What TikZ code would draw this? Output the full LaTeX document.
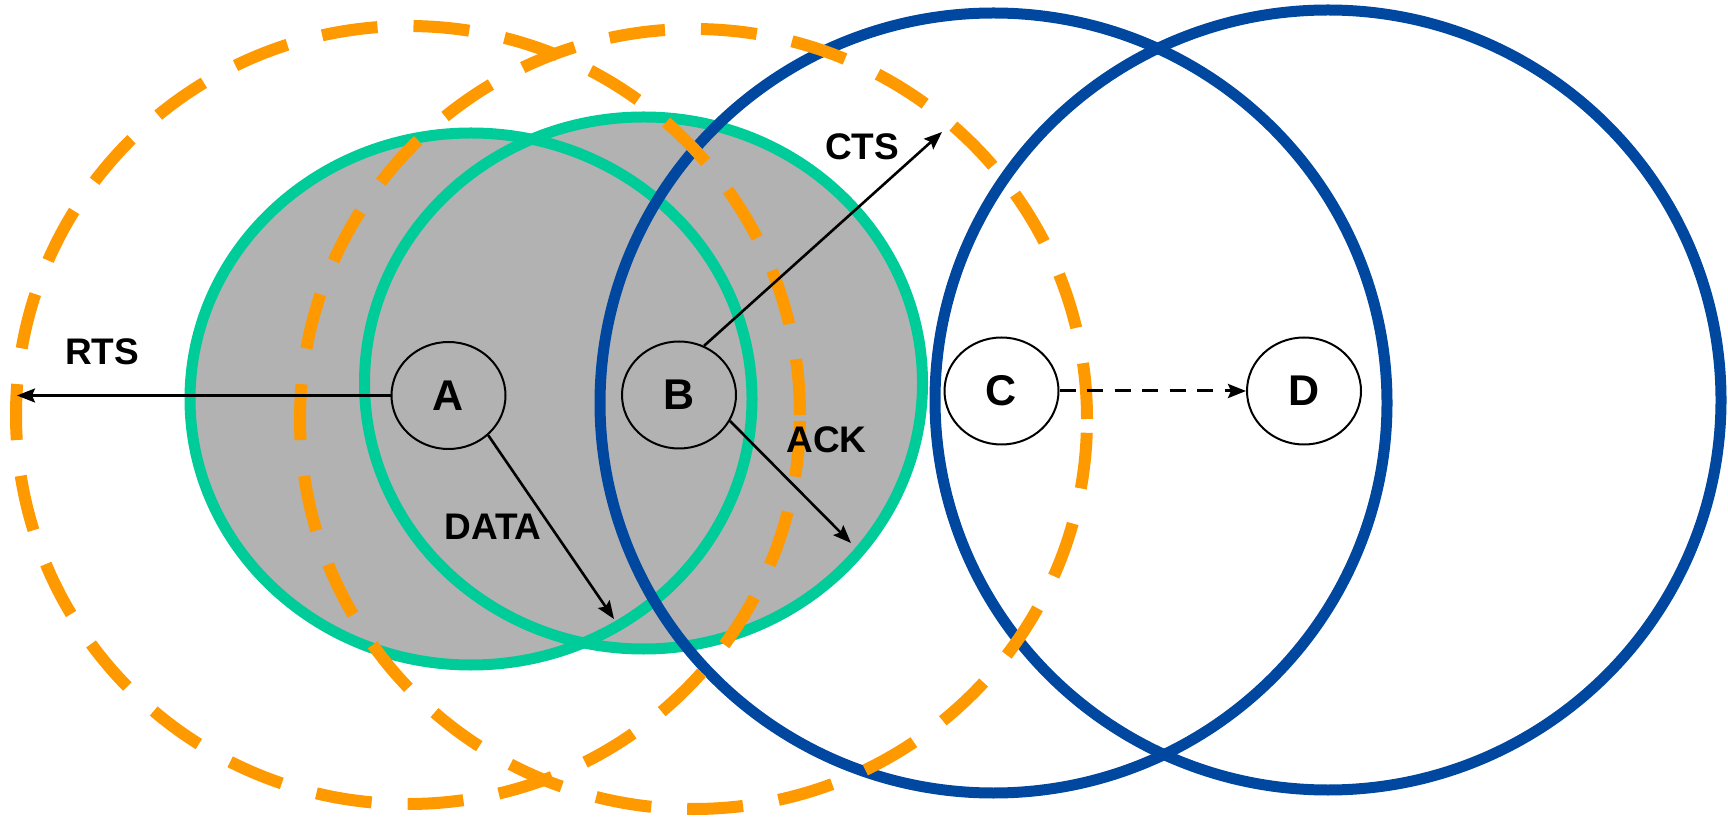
\documentclass[tikz,border=0pt]{standalone}
\usepackage{fontspec}
\setmainfont{Liberation Sans}
\usetikzlibrary{shapes.geometric,arrows.meta}
\definecolor{rgreen}{RGB}{0,204,153}
\definecolor{rblue}{RGB}{0,71,160}
\definecolor{rorange}{RGB}{255,153,0}
\definecolor{rgray}{RGB}{178,178,178}
\begin{document}
\begin{tikzpicture}[x=0.5pt,y=-0.5pt,
  greenring/.style={draw=rgreen,line width=5.5pt},
  bluering/.style={draw=rblue,line width=5.5pt},
  orangering/.style={draw=rorange,line width=6pt,dash pattern=on 28pt off 18pt},
  station/.style={ellipse,draw=black,line width=1pt,minimum width=57pt,minimum height=53.5pt,inner sep=0pt,font=\fontsize{21.5}{24}\selectfont\bfseries},
  msg/.style={inner sep=0pt,font=\fontsize{18.5}{20}\selectfont\bfseries},
  arr/.style={line width=1.3pt,-{Stealth[length=9pt,width=7pt,inset=1.5pt]}},
  dasharr/.style={line width=1.5pt,dash pattern=on 8pt off 5.75pt,-{Stealth[length=9pt,width=7pt,inset=1.5pt]}},
]
\useasboundingbox (0,0) rectangle (1728,817);
% gray union of the two green ranges
\fill[rgray] (471,399) ellipse [x radius=140.5pt, y radius=133pt];
\fill[rgray] (643.5,383) ellipse [x radius=139.5pt, y radius=133pt];
% green ranges
\draw[greenring] (471,399) ellipse [x radius=140.5pt, y radius=133pt];
\draw[greenring] (643.5,383) ellipse [x radius=139.5pt, y radius=133pt];
% blue ranges
\draw[bluering] (993.5,403) ellipse [x radius=196.75pt, y radius=195pt];
\draw[bluering] (1328,400) ellipse [x radius=196.5pt, y radius=195pt];
% orange dashed ranges
\draw[orangering] (408,415) ellipse [x radius=196pt, y radius=194.5pt];
\draw[orangering] (693.5,419) ellipse [x radius=196.75pt, y radius=195pt];
% stations
\node[station] (A) at (448.5,395.5) {A};
\node[station] (B) at (679,395) {B};
\node[station] (C) at (1001.5,391) {C};
\node[station] (D) at (1304,391) {D};
% arrow ends
\coordinate (rtsend) at (17,395.5);
\coordinate (dataend) at (614,619);
\coordinate (ctsend) at (942,132);
\coordinate (ackend) at (851,543);
% connectors
\draw[arr] (A) -- (rtsend);
\draw[arr] (A.-45) -- (dataend);
\draw[arr] (B.63) -- (ctsend);
\draw[arr] (B.-27) -- (ackend);
\draw[dasharr] (C) -- (D);
% labels
\node[msg] (rts) at (102,351.5) {RTS};
\node[msg] (data) at (493,527) {DATA};
\node[msg] (cts) at (862,146.5) {CTS};
\node[msg] (ack) at (826.5,440) {ACK};
\end{tikzpicture}
\end{document}
